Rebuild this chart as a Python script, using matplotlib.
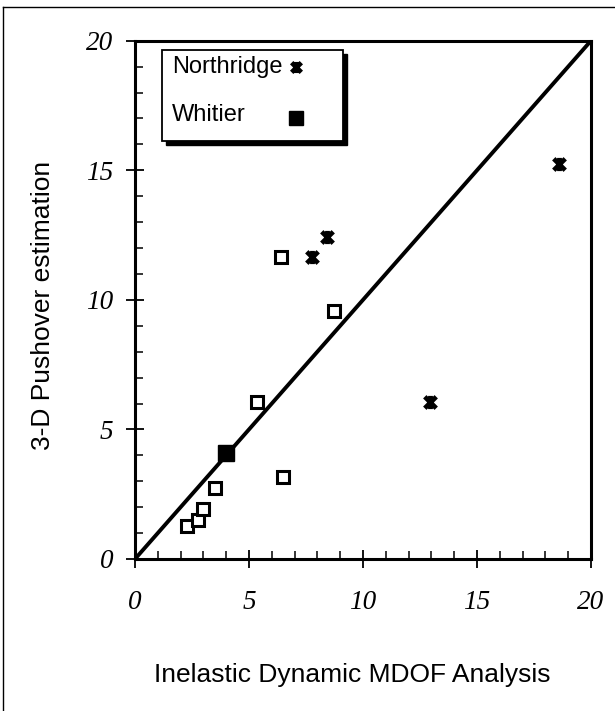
import matplotlib
matplotlib.use("Agg")
import matplotlib.pyplot as plt
from matplotlib.path import Path
from matplotlib.patches import Rectangle
from matplotlib.lines import Line2D
import numpy as np

# ---- data ----
northridge_x = [7.75, 8.43, 12.94, 18.6]
northridge_y = [11.65, 12.44, 6.05, 15.24]
whitier_x = [3.98]
whitier_y = [4.08]
other_x = [2.27, 2.78, 3.0, 3.51, 5.34, 6.5, 6.39, 8.74]
other_y = [1.29, 1.5, 1.92, 2.75, 6.07, 3.18, 11.67, 9.58]
diag = [0, 20]
ticks = [0, 5, 10, 15, 20]
legend_labels = ["Northridge", "Whitier"]
xlabel = "Inelastic Dynamic MDOF Analysis"
ylabel = "3-D Pushover estimation"

W, H = 615, 711
fig = plt.figure(figsize=(W / 100, H / 100), dpi=100)
fig.patch.set_facecolor("white")

# axes geometry in pixels
L, R, T, B = 135, 591, 40.7, 559
ax = fig.add_axes([L / W, 1 - B / H, (R - L) / W, (B - T) / H])

# asterisk marker: X plus vertical bar
ast = Path([(-1, -1), (1, 1), (-1, 1), (1, -1), (0, -1.15), (0, 1.15)],
           [Path.MOVETO, Path.LINETO, Path.MOVETO, Path.LINETO, Path.MOVETO, Path.LINETO])

ax.plot(diag, diag, color="black", lw=2.8, solid_capstyle="butt", zorder=2)
ax.plot(other_x, other_y, ls="none", marker="s", ms=8.5, mfc="white", mec="black", mew=2.2, zorder=3)
ax.plot(whitier_x, whitier_y, ls="none", marker="s", ms=11, mfc="black", mec="black", mew=1, zorder=3)
ax.plot(northridge_x, northridge_y, ls="none", marker=ast, ms=9.5, mfc="none", mec="black", mew=3.4, zorder=3)

ax.set_xlim(0, 20)
ax.set_ylim(0, 20)
ax.set_xticks(ticks)
ax.set_yticks(ticks)
ax.set_xticks(np.arange(0, 21, 1), minor=True)
ax.set_yticks(np.arange(0, 21, 1), minor=True)
ax.tick_params(which="major", direction="inout", length=13, width=1.3, pad=0)
ax.tick_params(which="minor", direction="in", length=5.5, width=1.1)
ax.tick_params(axis="x", which="major", pad=16)
ax.tick_params(axis="y", which="major", pad=9)
for lab in ax.get_xticklabels() + ax.get_yticklabels():
    lab.set_fontfamily("Liberation Serif")
    lab.set_fontstyle("italic")
    lab.set_fontsize(19.5)

for s in ax.spines.values():
    s.set_linewidth(2.2)

ax.set_xlabel(xlabel, fontfamily="Liberation Sans", fontsize=19, va="center")
ax.xaxis.set_label_coords((352 - L) / (R - L), (B - 675) / (B - T))
ax.set_ylabel(ylabel, fontfamily="Liberation Sans", fontsize=19, va="center")
ax.yaxis.set_label_coords((43 - L) / (R - L), (B - 305) / (B - T))

# ---- legend (manual, text left / marker right) ----
def ax_x(px):
    return (px - L) / (R - L)

def ax_y(py):
    return (B - py) / (B - T)

bx0, bx1, by0, by1 = 161.7, 342.7, 50, 141
shadow = Rectangle((ax_x(bx0 + 4), ax_y(by1 + 4)), ax_x(bx1) - ax_x(bx0), ax_y(by0) - ax_y(by1),
                   transform=ax.transAxes, facecolor="black", edgecolor="black", zorder=5, clip_on=False)
frame = Rectangle((ax_x(bx0), ax_y(by1)), ax_x(bx1) - ax_x(bx0), ax_y(by0) - ax_y(by1),
                  transform=ax.transAxes, facecolor="white", edgecolor="black", lw=1.3, zorder=6, clip_on=False)
ax.add_patch(shadow)
ax.add_patch(frame)
ax.text(ax_x(172), ax_y(66.7), legend_labels[0], transform=ax.transAxes, fontfamily="Liberation Sans",
        fontsize=17, va="center", ha="left", zorder=7)
ax.text(ax_x(172), ax_y(115), legend_labels[1], transform=ax.transAxes, fontfamily="Liberation Sans",
        fontsize=17, va="center", ha="left", zorder=7)
ax.add_line(Line2D([ax_x(296)], [ax_y(67)], transform=ax.transAxes, ls="none", marker=ast, ms=8,
                   mfc="none", mec="black", mew=3.4, zorder=7, clip_on=False))
ax.add_line(Line2D([ax_x(296)], [ax_y(118)], transform=ax.transAxes, ls="none", marker="s", ms=10,
                   mfc="black", mec="black", zorder=7, clip_on=False))

# figure border (top and left)
fig.add_artist(Line2D([3 / W, 1], [1 - 7 / H, 1 - 7 / H], transform=fig.transFigure, color="black", lw=1))
fig.add_artist(Line2D([3 / W, 3 / W], [0, 1 - 7 / H], transform=fig.transFigure, color="black", lw=1))

fig.savefig("out.png", dpi=100)
